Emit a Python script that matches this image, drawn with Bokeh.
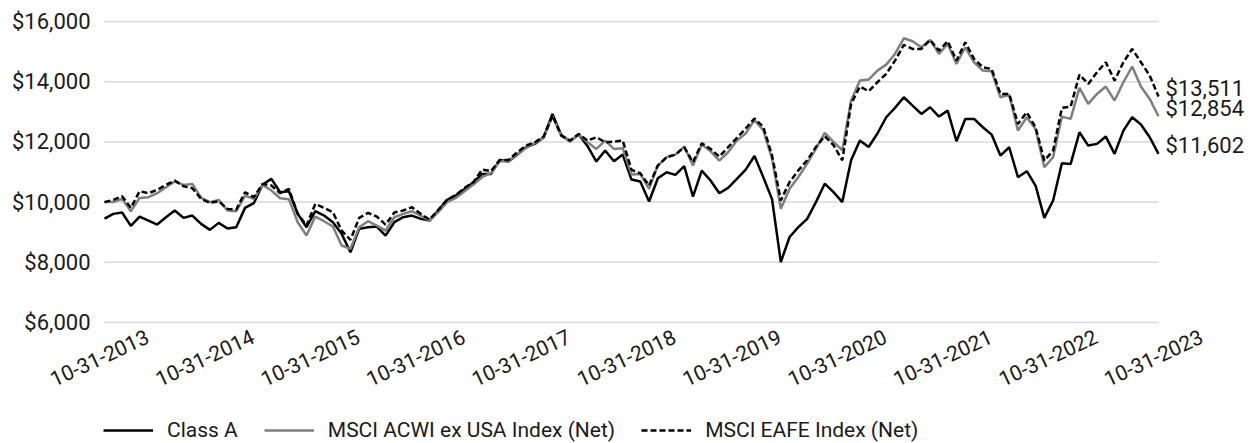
import math
from bokeh.plotting import figure
from bokeh.models import (Range1d, FixedTicker, NumeralTickFormatter, Label,
                          Legend, LegendItem, LinearAxis)
from bokeh.embed import file_html
from bokeh.resources import INLINE

# ---------------- data (monthly, 10-31-2013 .. 10-31-2023) ----------------
class_a = [
    9450, 9609, 9653, 9210, 9520, 9387, 9254, 9498, 9720, 9476,
    9553, 9277, 9077, 9310, 9122, 9166, 9808, 9963, 10583, 10771,
    10328, 10362, 9609, 9166, 9698, 9553, 9332, 8945, 8336, 9111,
    9166, 9188, 8890, 9332, 9498, 9553, 9443, 9387, 9720, 10074,
    10218, 10439, 10660, 10937, 10937, 11402, 11347, 11579, 11823, 11934,
    12155, 12930, 12232, 12022, 12243, 11856, 11347, 11712, 11358, 11579,
    10749, 10683, 10018, 10793, 10993, 10904, 11192, 10185, 11048, 10716,
    10295, 10472, 10771, 11080, 11530, 10830, 10100, 8010, 8840, 9167,
    9444, 10000, 10611, 10333, 10000, 11389, 12050, 11830, 12280, 12819,
    13129, 13483, 13206, 12930, 13151, 12841, 13040, 12022, 12763, 12763,
    12487, 12243, 11546, 11823, 10826, 11026, 10550, 9476, 10052, 11291,
    11269, 12321, 11878, 11934, 12177, 11601, 12376, 12819, 12576, 12155,
    11602,
]
acwi = [
    10000, 10000, 10107, 9698, 10140, 10162, 10295, 10494, 10683, 10572,
    10605, 10140, 9996, 10074, 9720, 9698, 10218, 10107, 10572, 10384,
    10129, 10096, 9332, 8890, 9520, 9365, 9188, 8557, 8446, 9166,
    9365, 9221, 9055, 9498, 9609, 9698, 9553, 9387, 9664, 9996,
    10140, 10362, 10583, 10826, 10970, 11358, 11358, 11601, 11800, 11956,
    12133, 12850, 12210, 12022, 12243, 11989, 11767, 12044, 11767, 11790,
    10915, 10937, 10439, 11214, 11491, 11579, 11845, 11214, 11911, 11690,
    11380, 11657, 12044, 12278, 12722, 12389, 11444, 9778, 10444, 10833,
    11278, 11778, 12300, 12000, 11722, 13373, 14037, 14070, 14369, 14568,
    14922, 15443, 15343, 15144, 15387, 14922, 15254, 14590, 15144, 14646,
    14369, 14347, 13483, 13561, 12376, 12819, 12432, 11159, 11491, 12841,
    12764, 13793, 13262, 13594, 13838, 13373, 13982, 14502, 13838, 13428,
    12854,
]
eafe = [
    10000, 10074, 10196, 9808, 10362, 10295, 10406, 10572, 10716, 10528,
    10461, 10107, 9974, 10030, 9775, 9753, 10328, 10162, 10605, 10550,
    10295, 10439, 9609, 9221, 9941, 9808, 9664, 9055, 8745, 9476,
    9642, 9520, 9254, 9653, 9720, 9830, 9609, 9421, 9742, 10074,
    10240, 10472, 10660, 11081, 11026, 11402, 11402, 11657, 11878, 11989,
    12177, 12875, 12210, 12044, 12265, 12044, 12155, 11989, 12011, 12044,
    11070, 10959, 10550, 11214, 11491, 11579, 11823, 11325, 11956, 11767,
    11513, 11823, 12133, 12444, 12778, 12500, 11555, 10055, 10667, 11055,
    11389, 11833, 12189, 11889, 11389, 13262, 13838, 13683, 13982, 14258,
    14701, 15221, 15089, 15089, 15387, 15033, 15343, 14701, 15310, 14756,
    14480, 14424, 13594, 13594, 12598, 12985, 12487, 11380, 11712, 13129,
    13173, 14236, 13926, 14313, 14646, 14037, 14646, 15089, 14646, 14203,
    13511,
]
tick_labels = [
    "10-31-2013", "10-31-2014", "10-31-2015", "10-31-2016", "10-31-2017",
    "10-31-2018", "10-31-2019", "10-31-2020", "10-31-2021", "10-31-2022",
    "10-31-2023",
]
y_ticks = [6000, 8000, 10000, 12000, 14000, 16000]
series_names = ["Class A", "MSCI ACWI ex USA Index (Net)", "MSCI EAFE Index (Net)"]

# ---------------- layout constants (canvas pixels) ----------------
W, H = 1250, 443
DATA_L, DATA_R = 104, 1158          # first / last month
GRID_T, GRID_B = 21, 322            # top / bottom gridline
LABEL_SHIFT_PX = 43                 # rotated labels are centred on their date
FONT = "Roboto"
TXT = "#1a1a1a"

x = list(range(len(class_a)))
months_per_label = (len(x) - 1) // (len(tick_labels) - 1)
tick_pos = [x[0] + k * months_per_label for k in range(len(tick_labels))]

ppm = (DATA_R - DATA_L) / (x[-1] - x[0])                   # px per month
ppu = (GRID_B - GRID_T) / (y_ticks[-1] - y_ticks[0])       # px per dollar
x_start = x[0] - DATA_L / ppm
x_end = x[-1] + (W - DATA_R) / ppm
y_end = y_ticks[-1] + GRID_T / ppu
y_start = y_ticks[0] - (H - GRID_B) / ppu
shift = LABEL_SHIFT_PX / ppm

# the frame covers the whole canvas; axes are pinned inside it
p = figure(width=W, height=H, output_backend="svg", toolbar_location=None,
           x_axis_location=None, y_axis_location=None,
           x_range=Range1d(x_start, x_end), y_range=Range1d(y_start, y_end),
           min_border=0)
p.outline_line_color = None
p.background_fill_color = "white"
p.border_fill_color = "white"
p.xgrid.grid_line_color = None
p.ygrid.grid_line_color = None

yaxis = LinearAxis(fixed_location=x[0], ticker=FixedTicker(ticks=y_ticks),
                   formatter=NumeralTickFormatter(format="$0,0"),
                   axis_line_color=None, major_tick_line_color=None,
                   minor_tick_line_color=None, major_tick_out=0, major_tick_in=0,
                   major_label_standoff=14, major_label_text_font=FONT,
                   major_label_text_font_size="22px", major_label_text_color=TXT)
p.add_layout(yaxis, "left")

# date axis on the $6,000 line; shifted range so the right-anchored rotated
# labels end up centred on their dates
p.extra_x_ranges = {"dates": Range1d(x_start - shift, x_end - shift)}
xaxis = LinearAxis(x_range_name="dates", fixed_location=y_ticks[0],
                   ticker=FixedTicker(ticks=tick_pos),
                   major_label_overrides={t: s for t, s in zip(tick_pos, tick_labels)},
                   major_label_orientation=math.radians(25),
                   axis_line_color=None, major_tick_line_color=None,
                   minor_tick_line_color=None, major_tick_out=0, major_tick_in=0,
                   major_label_standoff=13, major_label_text_font=FONT,
                   major_label_text_font_size="21px", major_label_text_color=TXT)
p.add_layout(xaxis, "below")

# horizontal gridlines spanning the data period only
p.segment(x0=[x[0]] * len(y_ticks), x1=[x[-1]] * len(y_ticks),
          y0=y_ticks, y1=y_ticks, line_color="#d9d9d9", line_width=1.5)

r1 = p.line(x, class_a, line_color="black", line_width=2.5)
r2 = p.line(x, acwi, line_color="#7f7f7f", line_width=2.5)
r3 = p.line(x, eafe, line_color="black", line_width=2.5, line_dash="6 3")

# end-of-series value labels
for vals in (class_a, acwi, eafe):
    p.add_layout(Label(x=x[-1], y=vals[-1], x_offset=7, y_offset=8,
                       text=f"${vals[-1]:,}", text_align="left",
                       text_baseline="middle", text_font=FONT,
                       text_font_size="22px", text_color=TXT))

legend = Legend(items=[LegendItem(label=n, renderers=[r])
                       for n, r in zip(series_names, (r1, r2, r3))],
                orientation="horizontal", location=(103, 1),
                glyph_width=50, glyph_height=20, label_standoff=14, spacing=26,
                padding=0, margin=0, border_line_color=None,
                background_fill_alpha=0, label_text_font=FONT,
                label_text_font_size="21px", label_text_color=TXT,
                label_height=20)
p.add_layout(legend)

open("out.html", "w").write(file_html(p, INLINE))
